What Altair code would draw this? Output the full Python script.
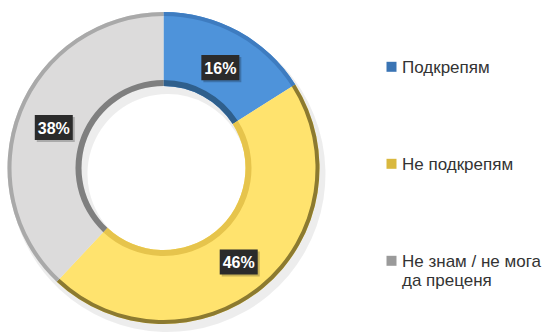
import altair as alt
import pandas as pd

categories = ["Подкрепям", "Не подкрепям", "Не знам / не мога да преценя"]
values = [16, 46, 38]
labels = ["16%", "46%", "38%"]
order_idx = [0, 1, 2]

fill_colors = ["#4E93DA", "#FFE36E", "#DCDBDB"]
outer_rim_colors = ["#3E7CC0", "#8C7A30", "#A9A9A9"]
inner_edge_colors = ["#2F5F8C", "#E6C44C", "#7F7F7F"]
legend_colors = ["#3A74B4", "#D9B83E", "#9A9A9A"]

df = pd.DataFrame({"cat": categories, "value": values, "label": labels, "idx": order_idx})

CX, CY = 163.5, 168
R_OUT, R_IN = 156, 82
R_LAB = 118
LAB_CY = CY + 3

base = alt.Chart(df)

theta = alt.Theta("value:Q", stack=True)
order = alt.Order("idx:Q")

shadow = base.mark_arc(radius=R_OUT + 2, radius2=R_IN - 2, xOffset=4, yOffset=6,
                       color="#000000", opacity=0.07).encode(theta=theta, order=order)

donut = base.mark_arc(radius=R_OUT, radius2=R_IN).encode(
    theta=theta,
    order=order,
    fill=alt.Fill("cat:N", scale=alt.Scale(domain=categories, range=fill_colors), legend=None),
)

legend_layer = base.mark_arc(radius=R_OUT, radius2=R_IN, opacity=0).encode(
    theta=theta,
    order=order,
    color=alt.Color(
        "cat:N",
        scale=alt.Scale(domain=categories, range=legend_colors),
        sort=None,
        legend=alt.Legend(
            title=None,
            orient="none",
            legendX=383,
            legendY=51,
            symbolType="M-1,0.46H1V2.46H-1Z",
            symbolSize=100,
            symbolStrokeWidth=0,
            symbolOpacity=1,
            labelFontSize=17,
            labelFont="Liberation Sans",
            labelColor="#333333",
            labelOffset=2,
            labelLimit=300,
            rowPadding=72,
            labelBaseline="top",
            labelExpr="datum.label == 'Не знам / не мога да преценя' ? ['Не знам / не мога', 'да преценя'] : datum.label",
        ),
    ),
)

outer_rim = base.mark_arc(radius=R_OUT, radius2=R_OUT - 4).encode(
    theta=theta,
    order=order,
    fill=alt.Fill("cat:N", scale=alt.Scale(domain=categories, range=outer_rim_colors), legend=None),
)

inner_edge = base.mark_arc(radius=R_IN + 6, radius2=R_IN).encode(
    theta=theta,
    order=order,
    fill=alt.Fill("cat:N", scale=alt.Scale(domain=categories, range=inner_edge_colors), legend=None),
)

pos = (
    base.transform_window(cum="sum(value)", sort=[alt.SortField("idx")], frame=[None, 0])
    .transform_joinaggregate(total="sum(value)")
    .transform_calculate(mid="(datum.cum - datum.value/2) / datum.total * 2 * PI")
    .transform_calculate(
        lx=f"{CX} + {R_LAB} * sin(datum.mid)",
        ly=f"{LAB_CY} - {R_LAB} * cos(datum.mid)",
    )
)

BOX = "M-1,-0.66H1V0.66H-1Z"

box_shadow = pos.mark_point(
    shape=BOX, size=1444, filled=True, color="#000000", opacity=0.22,
    xOffset=2, yOffset=2,
).encode(x=alt.X("lx:Q", scale=None), y=alt.Y("ly:Q", scale=None))

box = pos.mark_point(
    shape=BOX, size=1444, filled=True, color="#2B2B2B", opacity=1,
).encode(x=alt.X("lx:Q", scale=None), y=alt.Y("ly:Q", scale=None))

text = pos.mark_text(
    font="Liberation Sans", fontSize=16, fontWeight="bold", color="#FFFFFF",
    align="center", baseline="middle", dy=1,
).encode(x=alt.X("lx:Q", scale=None), y=alt.Y("ly:Q", scale=None), text="label:N")

chart = (
    alt.layer(shadow, donut, outer_rim, inner_edge, legend_layer, box_shadow, box, text)
    .resolve_scale(color="independent", fill="independent")
    .properties(
        width=327,
        height=336,
        autosize=alt.AutoSizeParams(type="none"),
        padding={"left": 0, "top": 0, "right": 215, "bottom": 0},
        background="#FFFFFF",
    )
    .configure_view(stroke=None)
)

chart.save("out.html", embed_options={"renderer": "svg", "actions": False})
